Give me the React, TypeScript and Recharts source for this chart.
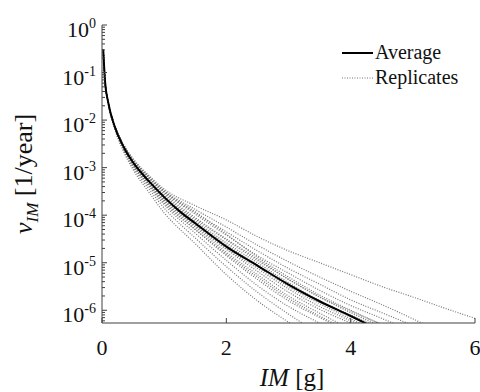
import React from 'react';
import { LineChart, Line, XAxis, YAxis } from 'recharts';

// hazard curve: x = IM [g], values stored as log10 of the annual rate
const SERIF = '"Liberation Serif", "Times New Roman", serif';
const AXIS = '#404040';
const Y_MIN = 5.4e-7;
const Y_MAX = 1;

const xTicks = [0, 2, 4, 6];

// IM grid used by the replicates
const repX = [0.02, 0.05, 0.1, 0.2, 0.35, 0.5, 0.75, 1, 1.5, 2, 2.5, 3, 3.5, 4, 4.5, 5, 5.5, 6];

// average curve
const avgX = [0.02, 0.05, 0.1, 0.2, 0.35, 0.5, 0.75, 1, 1.25, 1.5, 1.75, 2, 2.5, 3, 3.5, 4, 4.25];
const avgLog = [-0.52, -1.2, -1.63, -2.12, -2.57, -2.89, -3.28, -3.62, -3.92, -4.17, -4.42, -4.66, -5.06, -5.46, -5.81, -6.12, -6.28];

// replicates (log10 of rate at repX)
const rep01 = [-0.52, -1.2, -1.62, -2.09, -2.52, -2.81, -3.16, -3.45, -3.8, -4.1, -4.45, -4.75, -5.0, -5.25, -5.5, -5.72, -5.95, -6.17];
const rep02 = [-0.52, -1.2, -1.62, -2.1, -2.53, -2.83, -3.18, -3.48, -3.88, -4.25, -4.63, -4.98, -5.3, -5.6, -5.88, -6.18, -6.5];
const rep03 = [-0.52, -1.2, -1.62, -2.1, -2.53, -2.84, -3.2, -3.5, -3.95, -4.35, -4.75, -5.12, -5.45, -5.78, -6.05, -6.32];
const rep04 = [-0.52, -1.2, -1.62, -2.1, -2.54, -2.85, -3.21, -3.52, -3.98, -4.42, -4.85, -5.22, -5.58, -5.9, -6.17, -6.45];
const rep05 = [-0.52, -1.2, -1.63, -2.11, -2.55, -2.86, -3.23, -3.55, -4.05, -4.5, -4.92, -5.35, -5.72, -6.05, -6.35];
const rep06 = [-0.52, -1.2, -1.63, -2.11, -2.56, -2.87, -3.25, -3.58, -4.08, -4.52, -4.95, -5.35, -5.72, -6.02, -6.3];
const rep07 = [-0.52, -1.2, -1.63, -2.12, -2.56, -2.88, -3.27, -3.6, -4.12, -4.58, -5.0, -5.42, -5.8, -6.1, -6.4];
const rep08 = [-0.52, -1.2, -1.63, -2.12, -2.57, -2.89, -3.28, -3.62, -4.15, -4.62, -5.05, -5.45, -5.83, -6.13, -6.45];
const rep09 = [-0.52, -1.2, -1.63, -2.12, -2.58, -2.9, -3.3, -3.65, -4.2, -4.7, -5.12, -5.55, -5.92, -6.22, -6.5];
const rep10 = [-0.52, -1.2, -1.63, -2.13, -2.59, -2.92, -3.32, -3.68, -4.22, -4.72, -5.18, -5.62, -5.98, -6.27, -6.55];
const rep11 = [-0.52, -1.2, -1.63, -2.13, -2.59, -2.93, -3.34, -3.7, -4.25, -4.78, -5.25, -5.7, -6.06, -6.4];
const rep12 = [-0.52, -1.2, -1.64, -2.14, -2.6, -2.94, -3.35, -3.72, -4.3, -4.85, -5.35, -5.8, -6.15, -6.48];
const rep13 = [-0.52, -1.2, -1.64, -2.14, -2.62, -2.96, -3.39, -3.78, -4.38, -4.95, -5.48, -5.92, -6.27, -6.6];
const rep14 = [-0.52, -1.21, -1.64, -2.15, -2.64, -3.0, -3.44, -3.85, -4.48, -5.08, -5.62, -6.08, -6.5];
const rep15 = [-0.52, -1.21, -1.65, -2.17, -2.67, -3.04, -3.51, -3.95, -4.6, -5.25, -5.8, -6.25, -6.65];
const rep16 = [-0.52, -1.2, -1.64, -2.14, -2.61, -2.95, -3.37, -3.75, -4.3, -4.82, -5.3, -5.75, -6.12, -6.45];
const rep17 = [-0.52, -1.2, -1.62, -2.1, -2.53, -2.84, -3.2, -3.5, -3.93, -4.4, -4.88, -5.3, -5.68, -6.0, -6.3];
const rep18 = [-0.52, -1.2, -1.63, -2.13, -2.58, -2.91, -3.31, -3.66, -4.18, -4.65, -5.08, -5.5, -5.86, -6.18, -6.5];

const replicates = [rep01, rep02, rep03, rep04, rep05, rep06, rep07, rep08, rep09, rep10, rep11, rep12, rep13, rep14, rep15, rep16, rep17, rep18];

const toPoints = (xs: number[], logs: number[]) => logs.map((l, i) => ({ x: xs[i], y: Math.pow(10, l) }));

const avgData = toPoints(avgX, avgLog);
const repData = replicates.map((r) => toPoints(repX, r));

// decade + minor ticks for the log axis
const yTicks: number[] = [];
for (let k = 0; k >= -7; k--) {
  for (let m = 1; m <= 9; m++) {
    const v = m * Math.pow(10, k);
    if (v <= Y_MAX && v >= Y_MIN) yTicks.push(v);
  }
}

const isDecade = (v: number) => {
  const e = Math.round(Math.log10(v));
  return Math.abs(v - Math.pow(10, e)) < v * 1e-6;
};

function LeftTick(props: any) {
  const { x, y, payload } = props;
  const v = payload.value;
  const major = isDecade(v);
  const ax = x + 6;
  return (
    <g>
      <line x1={ax} x2={ax + (major ? 5 : 3)} y1={y} y2={y} stroke={AXIS} strokeWidth={1} />
      {major && (
        <text x={x} y={y + 12} textAnchor="end" fontFamily={SERIF} fontSize={22} fill="#111">
          10
          <tspan dy={-9} fontSize={14}>{Math.round(Math.log10(v))}</tspan>
        </text>
      )}
    </g>
  );
}

function RightTick(props: any) {
  const { x, y, payload } = props;
  const major = isDecade(payload.value);
  return <line x1={x - (major ? 5 : 3)} x2={x} y1={y} y2={y} stroke={AXIS} strokeWidth={1} />;
}

function BottomTick(props: any) {
  const { x, y, payload } = props;
  return (
    <g>
      <line x1={x} x2={x} y1={y - 5} y2={y} stroke={AXIS} strokeWidth={1} />
      <text x={x} y={y + 32} textAnchor="middle" fontFamily={SERIF} fontSize={22} fill="#111">
        {payload.value}
      </text>
    </g>
  );
}

function TopTick(props: any) {
  const { x, y } = props;
  return <line x1={x} x2={x} y1={y} y2={y + 5} stroke={AXIS} strokeWidth={1} />;
}

const LegendBox = () => (
  <div
    style={{
      position: 'absolute',
      top: 40,
      left: 342,
      fontFamily: SERIF,
      fontSize: 20,
      color: '#111',
      lineHeight: '25px',
    }}
  >
    <div style={{ display: 'flex', alignItems: 'center' }}>
      <svg width={31} height={4} style={{ marginRight: 2 }}>
        <line x1={0} y1={2} x2={31} y2={2} stroke="#000" strokeWidth={2} />
      </svg>
      <span>Average</span>
    </div>
    <div style={{ display: 'flex', alignItems: 'center' }}>
      <svg width={31} height={4} style={{ marginRight: 2 }}>
        <line x1={0} y1={2} x2={31} y2={2} stroke="#777" strokeWidth={1.2} strokeDasharray="1 1.5" />
      </svg>
      <span>Replicates</span>
    </div>
  </div>
);

export default function App() {
  return (
    <div style={{ position: 'absolute', left: 0, top: 0, width: 480, height: 392, background: '#fff' }}>
      <LineChart width={480} height={392} margin={{ top: 25, right: 5, bottom: 0, left: 0 }}>
        <XAxis
          type="number"
          dataKey="x"
          domain={[0, 6]}
          ticks={xTicks}
          interval={0}
          height={69}
          tickSize={0}
          tickMargin={0}
          tickLine={false}
          axisLine={{ stroke: AXIS }}
          tick={<BottomTick />}
          label={{
            content: () => (
              <text x={292} y={386} textAnchor="middle" fontFamily={SERIF} fontSize={25} fill="#111">
                <tspan fontStyle="italic">IM</tspan> [g]
              </text>
            ),
          }}
        />
        <XAxis
          xAxisId="top"
          orientation="top"
          type="number"
          dataKey="x"
          domain={[0, 6]}
          ticks={xTicks}
          interval={0}
          height={0}
          tickSize={0}
          tickMargin={0}
          tickLine={false}
          axisLine={{ stroke: AXIS }}
          tick={<TopTick />}
        />
        <YAxis
          type="number"
          scale="log"
          domain={[Y_MIN, Y_MAX]}
          allowDataOverflow
          ticks={yTicks}
          interval={0}
          width={102}
          tickSize={0}
          tickMargin={6}
          tickLine={false}
          axisLine={{ stroke: AXIS }}
          tick={<LeftTick />}
          label={{
            content: () => (
              <text
                x={32}
                y={174}
                transform="rotate(-90, 32, 174)"
                textAnchor="middle"
                fontFamily={SERIF}
                fontSize={26}
                fill="#111"
              >
                <tspan fontStyle="italic">ν</tspan>
                <tspan fontStyle="italic" fontSize={17} dy={6}>IM</tspan>
                <tspan dy={-6}> [1/year]</tspan>
              </text>
            ),
          }}
        />
        <YAxis
          yAxisId="right"
          orientation="right"
          type="number"
          scale="log"
          domain={[Y_MIN, Y_MAX]}
          allowDataOverflow
          ticks={yTicks}
          interval={0}
          width={0}
          tickSize={0}
          tickMargin={0}
          tickLine={false}
          axisLine={{ stroke: AXIS }}
          tick={<RightTick />}
        />
        {repData.map((d, i) => (
          <Line
            key={i}
            data={d}
            dataKey="y"
            type="monotone"
            stroke="#777"
            strokeWidth={1.2}
            strokeDasharray="1 1.5"
            dot={false}
            activeDot={false}
            legendType="none"
            isAnimationActive={false}
          />
        ))}
        <Line
          data={avgData}
          dataKey="y"
          type="monotone"
          stroke="#000"
          strokeWidth={2}
          dot={false}
          activeDot={false}
          isAnimationActive={false}
        />
      </LineChart>
      <LegendBox />
    </div>
  );
}
